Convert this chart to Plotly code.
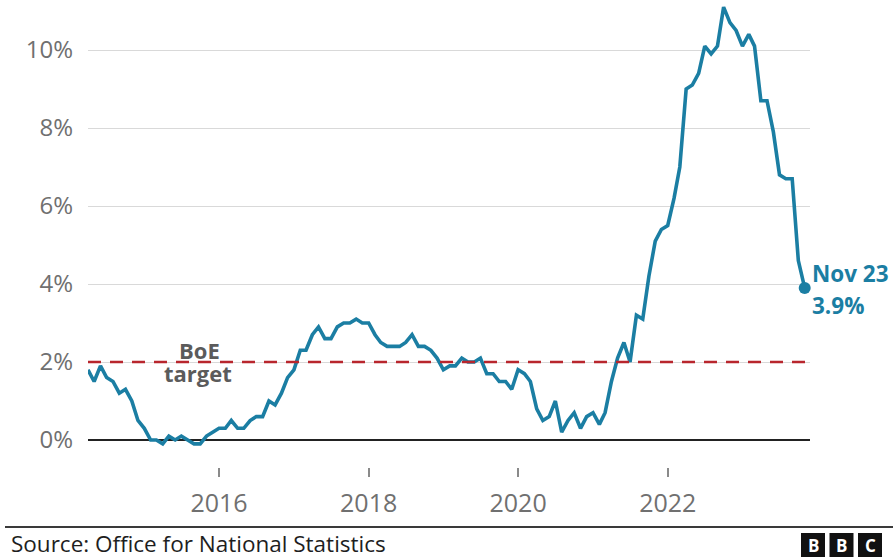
import plotly.graph_objects as go
import pandas as pd

# UK CPI annual inflation rate (%), monthly, April 2014 to November 2023
start_month = "2014-04-01"
cpi_rate = [
    1.8, 1.5, 1.9, 1.6, 1.5, 1.2, 1.3, 1.0, 0.5,                      # 2014 Apr-Dec
    0.3, 0.0, 0.0, -0.1, 0.1, 0.0, 0.1, 0.0, -0.1, -0.1, 0.1, 0.2,    # 2015
    0.3, 0.3, 0.5, 0.3, 0.3, 0.5, 0.6, 0.6, 1.0, 0.9, 1.2, 1.6,       # 2016
    1.8, 2.3, 2.3, 2.7, 2.9, 2.6, 2.6, 2.9, 3.0, 3.0, 3.1, 3.0,       # 2017
    3.0, 2.7, 2.5, 2.4, 2.4, 2.4, 2.5, 2.7, 2.4, 2.4, 2.3, 2.1,       # 2018
    1.8, 1.9, 1.9, 2.1, 2.0, 2.0, 2.1, 1.7, 1.7, 1.5, 1.5, 1.3,       # 2019
    1.8, 1.7, 1.5, 0.8, 0.5, 0.6, 1.0, 0.2, 0.5, 0.7, 0.3, 0.6,       # 2020
    0.7, 0.4, 0.7, 1.5, 2.1, 2.5, 2.0, 3.2, 3.1, 4.2, 5.1, 5.4,       # 2021
    5.5, 6.2, 7.0, 9.0, 9.1, 9.4, 10.1, 9.9, 10.1, 11.1, 10.7, 10.5,  # 2022
    10.1, 10.4, 10.1, 8.7, 8.7, 7.9, 6.8, 6.7, 6.7, 4.6, 3.9,         # 2023 Jan-Nov
]
months = pd.date_range(start_month, periods=len(cpi_rate), freq="MS")

boe_target = 2.0
y_tick_values = [0, 2, 4, 6, 8, 10]
y_tick_labels = ["0%", "2%", "4%", "6%", "8%", "10%"]
x_tick_dates = ["2016-01-01", "2018-01-01", "2020-01-01", "2022-01-01"]
x_tick_labels = ["2016", "2018", "2020", "2022"]
last_label = "Nov 23"
last_value_label = f"{cpi_rate[-1]}%"

W, H = 893, 558
M_L, M_R, M_T, M_B = 88, 83, 0, 91
PLOT_W = W - M_L - M_R
PLOT_H = H - M_T - M_B

LINE_COLOUR = "#1b7ea3"
TARGET_COLOUR = "#b8262d"
TICK_GREY = "#707070"
FONT = "Open Sans"


def px_x(px):
    """Horizontal pixel -> paper coordinate."""
    return (px - M_L) / PLOT_W


def px_y(py):
    """Vertical pixel -> paper coordinate."""
    return (H - M_B - py) / PLOT_H


fig = go.Figure()

fig.add_trace(go.Scatter(
    x=months, y=cpi_rate, mode="lines",
    line=dict(color=LINE_COLOUR, width=3.6),
    hoverinfo="skip", showlegend=False,
))
fig.add_trace(go.Scatter(
    x=[months[-1]], y=[cpi_rate[-1]], mode="markers",
    marker=dict(color=LINE_COLOUR, size=12),
    hoverinfo="skip", showlegend=False, cliponaxis=False,
))

shapes = [
    # Bank of England 2% target
    dict(type="line", xref="paper", yref="y", x0=0, x1=1, y0=boe_target, y1=boe_target,
         line=dict(color=TARGET_COLOUR, width=2.6, dash="13px,9px"), layer="above"),
    # footer rule
    dict(type="line", xref="paper", yref="paper", x0=px_x(5), x1=px_x(893),
         y0=px_y(527), y1=px_y(527), line=dict(color="#3a3a3a", width=2)),
]

annotations = [
    dict(text="<b>BoE</b>", x=px_x(199), y=px_y(350), xref="paper", yref="paper",
         showarrow=False, font=dict(family=FONT, size=22, color="#5b5b5b"),
         xanchor="center", yanchor="middle"),
    dict(text="<b>target</b>", x=px_x(198), y=px_y(373), xref="paper", yref="paper",
         showarrow=False, font=dict(family=FONT, size=22, color="#5b5b5b"),
         xanchor="center", yanchor="middle"),
    dict(text=f"<b>{last_label}</b>", x=px_x(810), y=px_y(273), xref="paper", yref="paper",
         showarrow=False, font=dict(family=FONT, size=22.5, color=LINE_COLOUR),
         xanchor="left", yanchor="middle"),
    dict(text=f"<b>{last_value_label}</b>", x=px_x(810), y=px_y(305), xref="paper", yref="paper",
         showarrow=False, font=dict(family=FONT, size=22.5, color=LINE_COLOUR),
         xanchor="left", yanchor="middle"),
    dict(text="Source: Office for National Statistics", x=px_x(9), y=px_y(543),
         xref="paper", yref="paper", showarrow=False,
         font=dict(family=FONT, size=22.5, color="#1e1e1e"),
         xanchor="left", yanchor="middle"),
]

# BBC blocks
box_w, box_gap, box_top, box_bottom = 24, 4.5, 533, 557
for i, letter in enumerate(["B", "B", "C"]):
    left = 801 + i * (box_w + box_gap)
    shapes.append(dict(type="rect", xref="paper", yref="paper",
                       x0=px_x(left), x1=px_x(left + box_w),
                       y0=px_y(box_bottom), y1=px_y(box_top),
                       fillcolor="#111111", line=dict(width=0)))
    annotations.append(dict(text=f"<b>{letter}</b>", x=px_x(left + box_w / 2),
                            y=px_y((box_top + box_bottom) / 2), xref="paper", yref="paper",
                            showarrow=False, xanchor="center", yanchor="middle",
                            font=dict(family=FONT, size=17, color="#ffffff")))

zero_px = 440
px_per_pct = 39
y_min = -(H - M_B - zero_px) / px_per_pct
y_max = (zero_px - M_T) / px_per_pct

fig.update_layout(
    width=W, height=H,
    margin=dict(l=M_L, r=M_R, t=M_T, b=M_B, pad=0),
    paper_bgcolor="#ffffff", plot_bgcolor="#ffffff",
    font=dict(family=FONT, color=TICK_GREY),
    shapes=shapes, annotations=annotations,
    xaxis=dict(
        type="date", range=["2014-04-01", "2023-11-27"],
        tickvals=x_tick_dates, ticktext=x_tick_labels,
        showgrid=False, zeroline=False, showline=False,
        ticks="outside", ticklen=9, tickwidth=1.5, tickcolor="#8a8a8a",
        tickfont=dict(family=FONT, size=25, color=TICK_GREY),
        ticklabelstandoff=5, fixedrange=True,
    ),
    yaxis=dict(
        range=[y_min, y_max],
        tickvals=y_tick_values, ticktext=y_tick_labels,
        showgrid=True, gridcolor="#d9d9d9", gridwidth=1,
        zeroline=True, zerolinecolor="#222222", zerolinewidth=2,
        showline=False, ticks="",
        tickfont=dict(family=FONT, size=24, color=TICK_GREY),
        ticklabelstandoff=14, fixedrange=True,
    ),
)

fig.write_html("out.html", config={"displayModeBar": False})
